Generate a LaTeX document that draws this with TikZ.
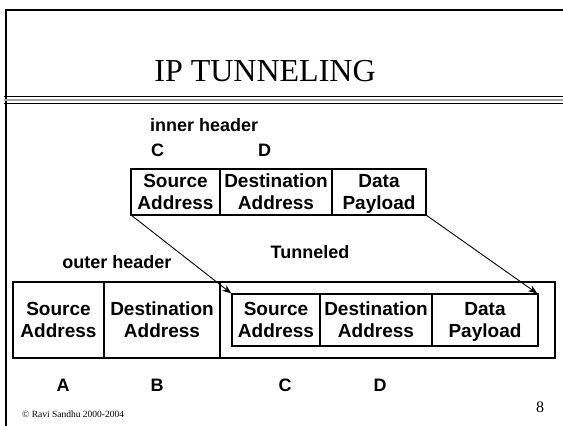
\documentclass[tikz,border=0pt]{standalone}
\usepackage{fontspec}
\setmainfont{Liberation Serif}
\setsansfont{Liberation Sans}
\usetikzlibrary{positioning,arrows.meta}

\tikzstyle{cell} = [rectangle, draw=black, line width=2.2pt, outer sep=0pt, inner sep=0pt, align=center, text height=35pt, text depth=0pt, font=\sffamily\bfseries\fontsize{19}{22}\selectfont]
\tikzstyle{lbl} = [inner sep=0pt, font=\sffamily\bfseries\fontsize{18}{21}\selectfont]
\tikzstyle{arrow} = [line width=0.9pt, -{Stealth[length=9pt,width=7pt]}, shorten >=1pt]

\begin{document}
\begin{tikzpicture}[x=1pt, y=-1pt]
\useasboundingbox (0,0) rectangle (563,426);

% slide frame and title rule
\draw[line width=2pt] (6,426) -- (6,10) -- (563,10);
\draw[line width=1.2pt] (4,96.5) -- (563,96.5);
\draw[line width=2pt, gray!70] (4,100) -- (563,100);
\draw[line width=0.9pt] (4,103.5) -- (563,103.5);
\node (title) [font=\fontsize{32}{34}\selectfont] at (265,71) {IP TUNNELING};

% inner packet
\node (src1) [cell, minimum width=89pt, minimum height=46pt, anchor=north west] at (131,169) {Source\\Address};
\node (dst1) [cell, minimum width=112pt, minimum height=46pt, right=0pt of src1] {Destination\\Address};
\node (data1) [cell, minimum width=94pt, minimum height=46pt, right=0pt of dst1] {Data\\Payload};
\node (inner) [lbl, anchor=west] at (150,125) {inner header};
\node (c1) [lbl, anchor=west] at (151,150) {C};
\node (d1) [lbl, anchor=west] at (258,150) {D};

% outer packet
\node (src2) [cell, minimum width=91pt, minimum height=76pt, anchor=north west] at (13,282) {Source\\Address};
\node (dst2) [cell, minimum width=116pt, minimum height=76pt, right=0pt of src2] {Destination\\Address};
\node (tunnel) [cell, minimum width=335pt, minimum height=76pt, right=0pt of dst2, line width=2.6pt] {};
\node (outer) [lbl] at (117,262) {outer header};
\node (tlabel) [lbl] at (310,252) {Tunneled};

% tunneled copy
\node (src3) [cell, minimum width=88pt, minimum height=52pt, anchor=north west] at (232,294) {Source\\Address};
\node (dst3) [cell, minimum width=112pt, minimum height=52pt, right=0pt of src3] {Destination\\Address};
\node (data3) [cell, minimum width=106pt, minimum height=52pt, right=0pt of dst3] {Data\\Payload};

% addresses
\node (a) [lbl] at (63,385) {A};
\node (b) [lbl] at (157,385) {B};
\node (c2) [lbl] at (285,385) {C};
\node (d2) [lbl] at (380,385) {D};

% Arrows
\draw [arrow] (src1.south west) -- (src3.north west);
\draw [arrow] (data1.south east) -- (data3.north east);

\node (copy) [font=\fontsize{9.5}{10}\selectfont, anchor=west, inner sep=0pt] at (22,414) {© Ravi Sandhu 2000-2004};
\node (page) [font=\fontsize{16}{17}\selectfont] at (540,407) {8};

\end{tikzpicture}
\end{document}
